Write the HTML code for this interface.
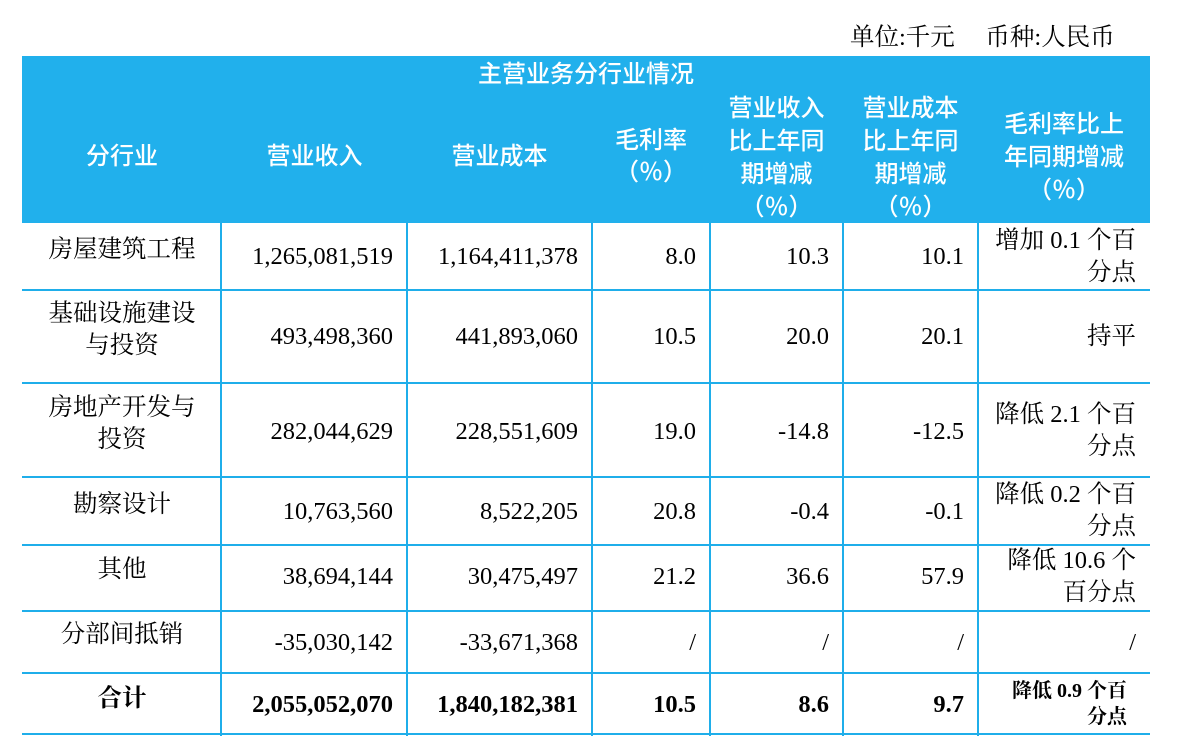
<!DOCTYPE html>
<html><head><meta charset="utf-8"><style>
body{margin:0;width:1180px;height:736px;background:#fff;position:relative;overflow:hidden}
.a{position:absolute;white-space:nowrap;line-height:32px}
.s{font-family:"Liberation Serif","Noto Serif CJK SC",serif;font-size:24.5px;color:#000}
.h{font-family:"Liberation Sans","Noto Sans CJK SC",sans-serif;font-size:24px;color:#fff;text-align:center;font-weight:500}
.r{text-align:right}.c{text-align:center}
.hl{position:absolute;left:22px;width:1128px;height:2px;background:#1FAEEA}
.vl{position:absolute;width:2px;background:#1FAEEA;top:223px;height:513px}
b{font-weight:bold}
</style></head><body>
<div class="a s" style="left:850px;top:22px">单位:千元&nbsp;&nbsp;&nbsp;&nbsp;&nbsp;币种:人民币</div>
<div style="position:absolute;left:22px;top:56px;width:1128px;height:167px;background:#21B0EC"></div>
<div class="a h" style="left:22px;width:1128px;top:59px">主营业务分行业情况</div>
<div class="a h" style="left:22px;width:200px;top:141px">分行业</div>
<div class="a h" style="left:222px;width:185px;top:141px">营业收入</div>
<div class="a h" style="left:407px;width:185px;top:141px">营业成本</div>
<div class="a h" style="left:592px;width:118px;top:125px">毛利率<br>（％）</div>
<div class="a h" style="left:710px;width:133px;top:92px;line-height:33px">营业收入<br>比上年同<br>期增减<br>（％）</div>
<div class="a h" style="left:843px;width:135px;top:92px;line-height:33px">营业成本<br>比上年同<br>期增减<br>（％）</div>
<div class="a h" style="left:978px;width:172px;top:108px;line-height:33px">毛利率比上<br>年同期增减<br>（％）</div>

<div class="vl" style="left:220px"></div><div class="vl" style="left:406px"></div><div class="vl" style="left:591px"></div>
<div class="vl" style="left:709px"></div><div class="vl" style="left:842px"></div><div class="vl" style="left:977px"></div>
<div class="hl" style="top:289px"></div><div class="hl" style="top:382px"></div><div class="hl" style="top:476px"></div>
<div class="hl" style="top:544px"></div><div class="hl" style="top:610px"></div><div class="hl" style="top:672px"></div><div class="hl" style="top:733px"></div>

<div class="a s c" style="left:22px;width:200px;top:234px">房屋建筑工程</div>
<div class="a s r" style="right:787px;top:241px">1,265,081,519</div>
<div class="a s r" style="right:602px;top:241px">1,164,411,378</div>
<div class="a s r" style="right:484px;top:241px">8.0</div>
<div class="a s r" style="right:351px;top:241px">10.3</div>
<div class="a s r" style="right:216px;top:241px">10.1</div>
<div class="a s r" style="right:44px;top:225px">增加 0.1 个百<br>分点</div>

<div class="a s c" style="left:22px;width:200px;top:298px">基础设施建设<br>与投资</div>
<div class="a s r" style="right:787px;top:321px">493,498,360</div>
<div class="a s r" style="right:602px;top:321px">441,893,060</div>
<div class="a s r" style="right:484px;top:321px">10.5</div>
<div class="a s r" style="right:351px;top:321px">20.0</div>
<div class="a s r" style="right:216px;top:321px">20.1</div>
<div class="a s r" style="right:44px;top:321px">持平</div>

<div class="a s c" style="left:22px;width:200px;top:392px">房地产开发与<br>投资</div>
<div class="a s r" style="right:787px;top:416px">282,044,629</div>
<div class="a s r" style="right:602px;top:416px">228,551,609</div>
<div class="a s r" style="right:484px;top:416px">19.0</div>
<div class="a s r" style="right:351px;top:416px">-14.8</div>
<div class="a s r" style="right:216px;top:416px">-12.5</div>
<div class="a s r" style="right:44px;top:399px">降低 2.1 个百<br>分点</div>

<div class="a s c" style="left:22px;width:200px;top:489px">勘察设计</div>
<div class="a s r" style="right:787px;top:496px">10,763,560</div>
<div class="a s r" style="right:602px;top:496px">8,522,205</div>
<div class="a s r" style="right:484px;top:496px">20.8</div>
<div class="a s r" style="right:351px;top:496px">-0.4</div>
<div class="a s r" style="right:216px;top:496px">-0.1</div>
<div class="a s r" style="right:44px;top:479px">降低 0.2 个百<br>分点</div>

<div class="a s c" style="left:22px;width:200px;top:554px">其他</div>
<div class="a s r" style="right:787px;top:561px">38,694,144</div>
<div class="a s r" style="right:602px;top:561px">30,475,497</div>
<div class="a s r" style="right:484px;top:561px">21.2</div>
<div class="a s r" style="right:351px;top:561px">36.6</div>
<div class="a s r" style="right:216px;top:561px">57.9</div>
<div class="a s r" style="right:44px;top:545px">降低 10.6 个<br>百分点</div>

<div class="a s c" style="left:22px;width:200px;top:619px">分部间抵销</div>
<div class="a s r" style="right:787px;top:627px">-35,030,142</div>
<div class="a s r" style="right:602px;top:627px">-33,671,368</div>
<div class="a s r" style="right:484px;top:627px">/</div>
<div class="a s r" style="right:351px;top:627px">/</div>
<div class="a s r" style="right:216px;top:627px">/</div>
<div class="a s r" style="right:44px;top:627px">/</div>

<div class="a s c" style="left:22px;width:200px;top:683px"><b>合计</b></div>
<div class="a s r" style="right:787px;top:689px"><b>2,055,052,070</b></div>
<div class="a s r" style="right:602px;top:689px"><b>1,840,182,381</b></div>
<div class="a s r" style="right:484px;top:689px"><b>10.5</b></div>
<div class="a s r" style="right:351px;top:689px"><b>8.6</b></div>
<div class="a s r" style="right:216px;top:689px"><b>9.7</b></div>
<div class="a s r" style="right:53px;top:678px;font-size:20px;line-height:26px"><b>降低 0.9 个百<br>分点</b></div>
</body></html>
